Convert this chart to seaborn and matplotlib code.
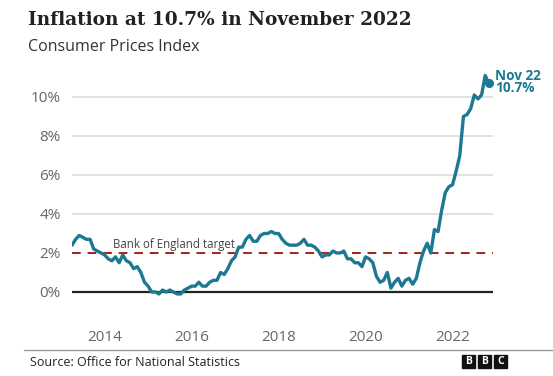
import matplotlib
matplotlib.use("Agg")
import matplotlib.pyplot as plt
import seaborn as sns
import pandas as pd
import numpy as np

# UK CPI annual rate, monthly, Apr 2013 - Nov 2022
start_year = 2013
start_month = 4
cpi = [
    2.4, 2.7, 2.9, 2.8, 2.7, 2.7, 2.2, 2.1, 2.0,            # 2013 Apr-Dec
    1.9, 1.7, 1.6, 1.8, 1.5, 1.9, 1.6, 1.5, 1.2, 1.3, 1.0, 0.5,  # 2014
    0.3, 0.0, 0.0, -0.1, 0.1, 0.0, 0.1, 0.0, -0.1, -0.1, 0.1, 0.2,  # 2015
    0.3, 0.3, 0.5, 0.3, 0.3, 0.5, 0.6, 0.6, 1.0, 0.9, 1.2, 1.6,  # 2016
    1.8, 2.3, 2.3, 2.7, 2.9, 2.6, 2.6, 2.9, 3.0, 3.0, 3.1, 3.0,  # 2017
    3.0, 2.7, 2.5, 2.4, 2.4, 2.4, 2.5, 2.7, 2.4, 2.4, 2.3, 2.1,  # 2018
    1.8, 1.9, 1.9, 2.1, 2.0, 2.0, 2.1, 1.7, 1.7, 1.5, 1.5, 1.3,  # 2019
    1.8, 1.7, 1.5, 0.8, 0.5, 0.6, 1.0, 0.2, 0.5, 0.7, 0.3, 0.6,  # 2020
    0.7, 0.4, 0.7, 1.5, 2.1, 2.5, 2.0, 3.2, 3.1, 4.2, 5.1, 5.4,  # 2021
    5.5, 6.2, 7.0, 9.0, 9.1, 9.4, 10.1, 9.9, 10.1, 11.1, 10.7,   # 2022 Jan-Nov
]
target = 2.0
y_ticks = [0, 2, 4, 6, 8, 10]
y_labels = ["0%", "2%", "4%", "6%", "8%", "10%"]
x_ticks = [2014, 2016, 2018, 2020, 2022]
x_labels = ["2014", "2016", "2018", "2020", "2022"]

months = np.arange(len(cpi))
years = start_year + (start_month - 1 + months) / 12.0
df = pd.DataFrame({"year": years, "cpi": cpi})

W, H = 553, 376
fig = plt.figure(figsize=(W / 100, H / 100), dpi=100)
sns.set_style("white")
plt.rcParams["font.family"] = ["Open Sans", "DejaVu Sans"]

ax = fig.add_axes([72 / W, 1 - 311.5 / H, (493 - 72) / W, (311.5 - 67.7) / H])
ax.set_xlim(2013.25, 2022.93)
ax.set_ylim(-1, 11.5)

for v in y_ticks:
    if v in (0, 2):
        continue
    ax.axhline(v, color="#dcdcdc", lw=1.2, zorder=0)
ax.axhline(0, color="#222222", lw=1.6, zorder=1)
ax.axhline(target, color="#a8201a", lw=1.4, ls=(0, (4.5, 3.5)), zorder=1)

teal = "#1d7891"
sns.lineplot(data=df, x="year", y="cpi", ax=ax, color=teal, lw=2.4, zorder=3)
ax.plot(df["year"].iloc[-1], df["cpi"].iloc[-1], "o", color=teal, ms=5.5, zorder=4)
ax.text(df["year"].iloc[-1] + 0.15, 11.45,
        "Nov 22\n10.7%", color=teal, fontsize=9.8, fontweight="bold",
        va="top", ha="left", multialignment="left", linespacing=0.85,
        clip_on=False)
ax.text(2014.2, 2.12, "Bank of England target", color="#444444", fontsize=8.3,
        va="bottom", ha="left")

for s in ax.spines.values():
    s.set_visible(False)
ax.set_yticks(y_ticks)
ax.set_yticklabels(y_labels)
ax.set_xticks(x_ticks)
ax.set_xticklabels(x_labels)
ax.tick_params(axis="y", length=0, pad=8, labelsize=11, labelcolor="#666666")
ax.tick_params(axis="x", length=4, width=0.9, color="#555555", pad=9,
               labelsize=11, labelcolor="#666666", direction="out")
ax.set_xlabel("")
ax.set_ylabel("")

fig.text(28 / W, 1 - 20 / H, "Inflation at 10.7% in November 2022",
         family=["DejaVu Serif"], fontsize=13.3, fontweight="bold",
         color="#222222", va="center", ha="left")
fig.text(28 / W, 1 - 47 / H, "Consumer Prices Index", fontsize=11.5,
         color="#333333", va="center", ha="left")

fig.add_artist(plt.Line2D([24 / W, 1.0], [1 - 350 / H, 1 - 350 / H],
                          color="#999999", lw=1.0, transform=fig.transFigure))
fig.text(30 / W, 1 - 362 / H, "Source: Office for National Statistics",
         fontsize=9, color="#222222", va="center", ha="left")
for i, letter in enumerate("BBC"):
    x0 = 462 + i * 16
    fig.patches.append(plt.Rectangle((x0 / W, 1 - 368 / H), 13 / W, 13 / H,
                                     transform=fig.transFigure, color="#111111"))
    fig.text((x0 + 6.5) / W, 1 - 361.5 / H, letter, fontsize=7.5,
             fontweight="bold", color="white", ha="center", va="center")

fig.savefig("out.png", dpi=100)
